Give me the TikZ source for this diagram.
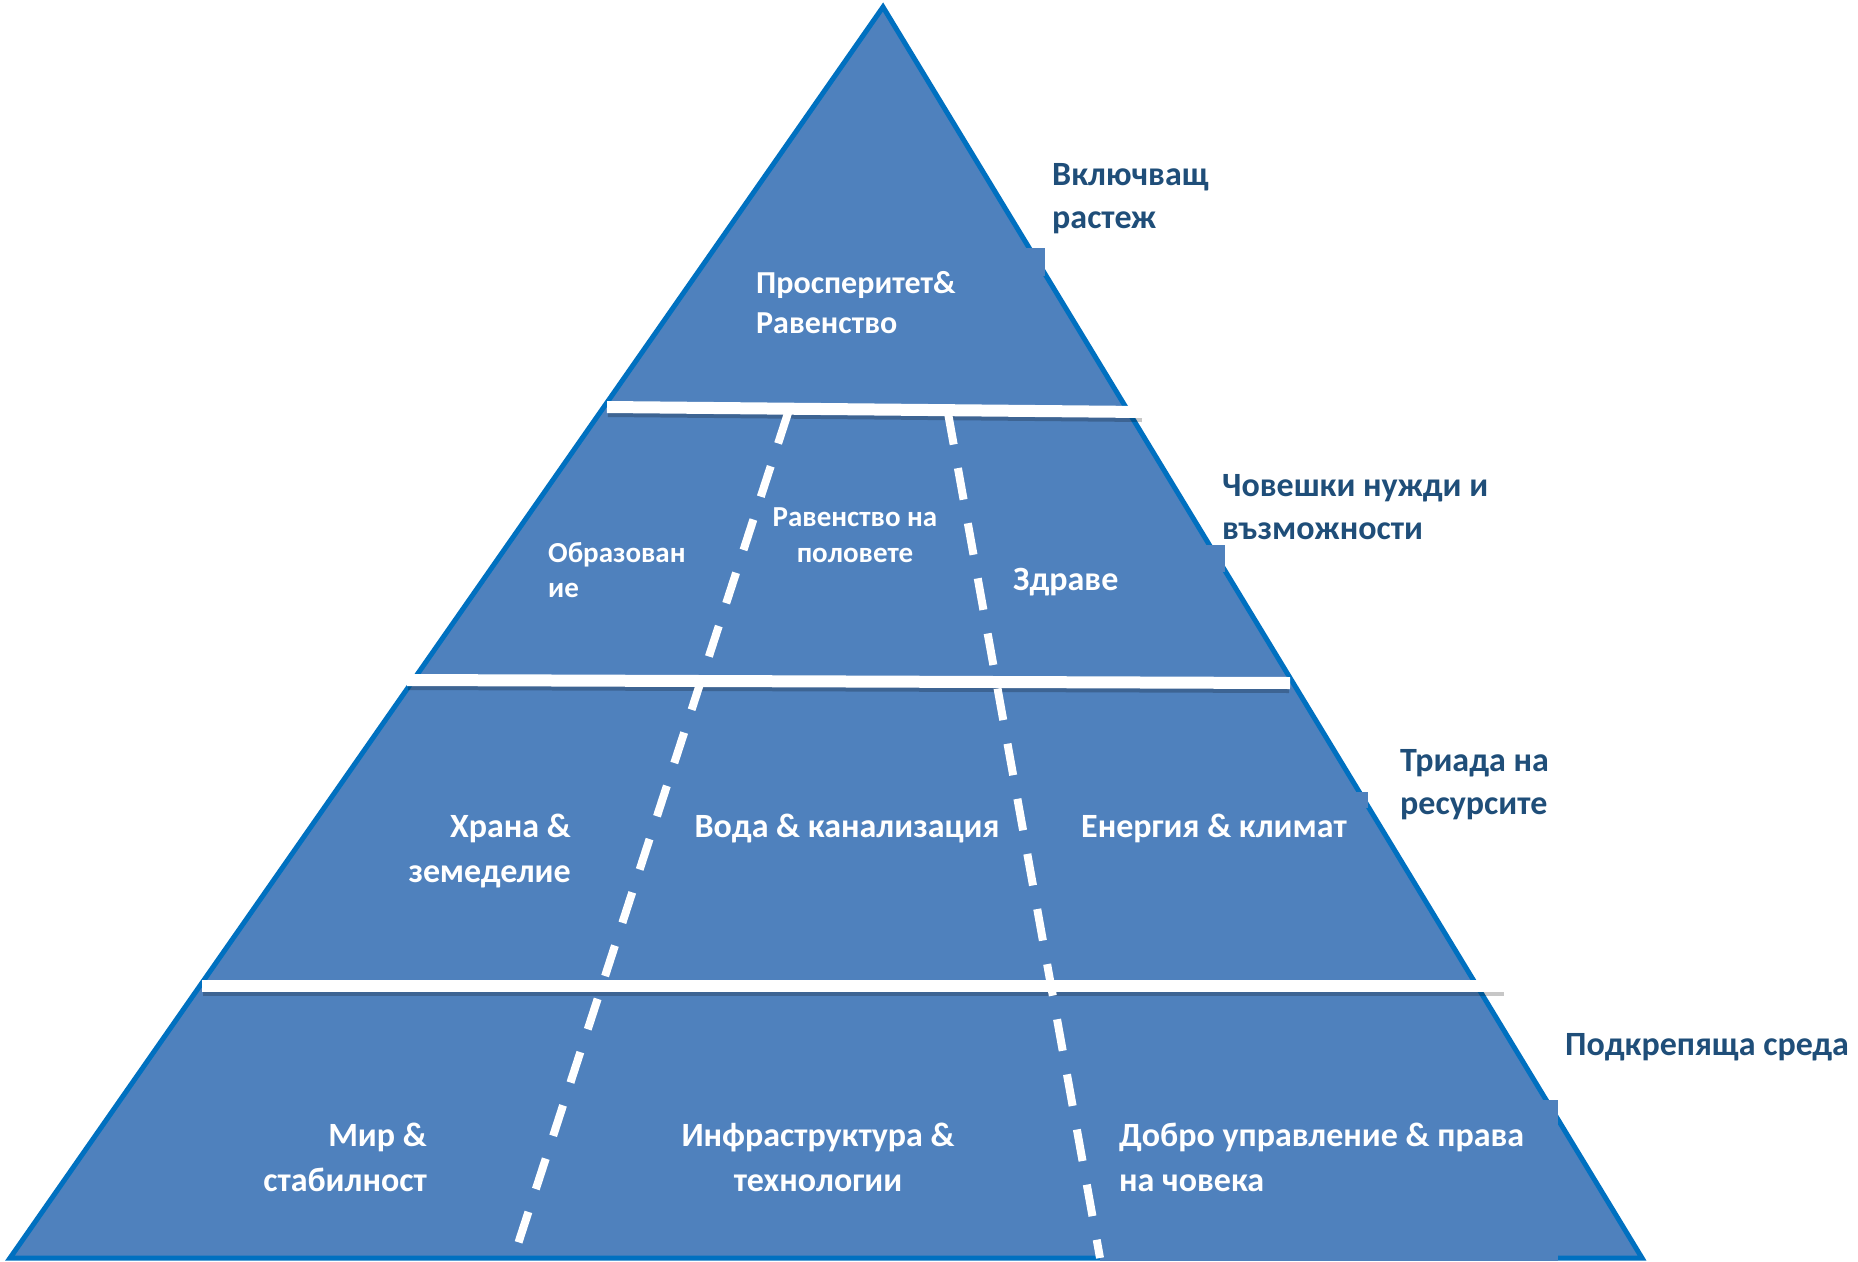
\documentclass[tikz,border=0pt]{standalone}
\usepackage{fontspec}
\setmainfont{Carlito}
\usetikzlibrary{positioning}

\definecolor{pyrfill}{HTML}{4F81BD}
\definecolor{pyredge}{HTML}{0070C0}
\definecolor{tierblue}{HTML}{1F4E79}

\tikzset{
    cell/.style={text=white, inner sep=0, font=\bfseries\fontsize{34}{45}\selectfont},
    tier/.style={text=tierblue, inner sep=0, anchor=west, align=left, font=\bfseries\fontsize{34}{43}\selectfont},
    bar/.style={white, line width=12pt},
    barshadow/.style={black, opacity=.22, line width=10pt},
    divider/.style={white, line width=8pt, dash pattern=on 32pt off 24pt},
}

\begin{document}
\begin{tikzpicture}[x=1pt, y=-1pt]
    \useasboundingbox (0, 0) rectangle (1858, 1261);
    \coordinate (apex) at (883, 7);
    \coordinate (left) at (10, 1258);
    \coordinate (right) at (1642, 1258);
    \filldraw [fill=pyrfill, draw=pyredge, line width=5pt] (apex) -- (right) -- (left) -- cycle;
    % corners of the text boxes over the edge
    \fill [pyrfill] (1020, 248) rectangle (1045, 276);
    \fill [pyrfill] (1195, 545) rectangle (1225, 572);
    \fill [pyrfill] (1345, 792) rectangle (1368, 808);
    \fill [pyrfill] (1100, 1100) rectangle (1558, 1261);

    \coordinate (bar1l) at (607, 407);
    \coordinate (bar1r) at (1143, 412);
    \coordinate (bar2l) at (407, 680);
    \coordinate (bar2r) at (1290, 683);
    \coordinate (bar3l) at (202, 986);
    \coordinate (bar3r) at (1505, 986);
    \draw [barshadow] ([shift={(1, 5)}]bar1l) -- ([shift={(-1, 5)}]bar1r);
    \draw [barshadow] ([shift={(1, 5)}]bar2l) -- ([shift={(-1, 5)}]bar2r);
    \draw [barshadow] ([shift={(1, 5)}]bar3l) -- ([shift={(-1, 5)}]bar3r);
    \draw [bar] (bar1l) -- (bar1r);
    \draw [bar] (bar2l) -- (bar2r);
    \draw [bar] (bar3l) -- (bar3r);

    \coordinate (div1t) at (788, 413);
    \coordinate (div1b) at (518, 1244);
    \coordinate (div2t) at (948, 413);
    \coordinate (div2b) at (1100, 1258);
    \draw [divider] (div1t) -- (div1b);
    \draw [divider] (div2t) -- (div2b);

    \node (prosperity) [cell, anchor=west, align=left, font=\bfseries\fontsize{32}{40}\selectfont] at (756, 303) {Просперитет\&\\Равенство};
    \node (education) [cell, anchor=west, align=left, font=\bfseries\fontsize{29}{35}\selectfont] at (548, 570) {Образован\\ие};
    \node (gender) [cell, align=center, font=\bfseries\fontsize{29}{36}\selectfont] at (855, 535) {Равенство на\\половете};
    \node (health) [cell, anchor=west] at (1013, 582) {Здраве};
    \node (food) [cell, anchor=east, align=right] at (571, 851) {Храна \&\\земеделие};
    \node (water) [cell] at (847, 828) {Вода \& канализация};
    \node (energy) [cell, anchor=west] at (1081, 828) {Енергия \& климат};
    \node (peace) [cell, anchor=east, align=right] at (427, 1157) {Мир \&\\стабилност};
    \node (infra) [cell, align=center] at (818, 1157) {Инфраструктура \&\\технологии};
    \node (rights) [cell, anchor=west, align=left] at (1119, 1157) {Добро управление \& права\\на човека};

    \node (growth) [tier] at (1052, 199) {Включващ\\растеж};
    \node (needs) [tier] at (1222, 507) {Човешки нужди и\\възможности};
    \node (triad) [tier] at (1400, 785) {Триада на\\ресурсите};
    \node (support) [tier] at (1565, 1047) {Подкрепяща среда};
\end{tikzpicture}
\end{document}
